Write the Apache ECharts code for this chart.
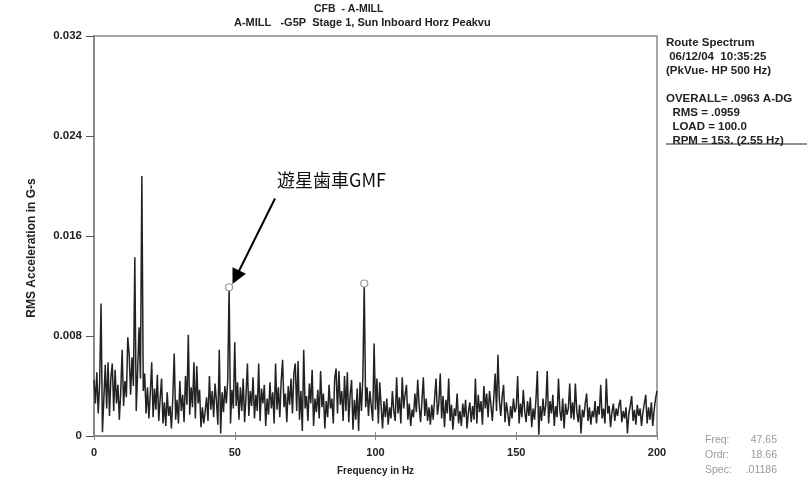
<!DOCTYPE html>
<html>
<head>
<meta charset="utf-8">
<script src="https://cdn.jsdelivr.net/npm/echarts@6/dist/echarts.min.js"></script>
<style>
  html, body { margin: 0; padding: 0; background: #fff; }
  #chart { width: 810px; height: 484px; }
</style>
</head>
<body>
<div id="chart"></div>
<script>
// spectrum line spacing (Hz) and amplitudes in thousandths of a G (0 .. 200 Hz)
const binHz = 0.5;
const ampMilliG = [
  // 0 - 9.5 Hz
  4.5, 2.6, 5.1, 1.8, 4.2, 10.6, 0.3, 3.0, 5.7, 2.2, 5.9, 1.6, 4.7, 5.8, 2.0, 5.3, 2.6, 4.1, 1.3, 3.6,
  // 10 - 19.5
  6.9, 2.4, 4.4, 3.1, 7.9, 6.5, 3.3, 6.3, 4.0, 14.3, 2.0, 5.2, 8.7, 4.6, 20.8, 3.6, 5.0, 1.8, 3.9, 1.4,
  // 20 - 29.5
  3.4, 5.9, 1.5, 3.8, 2.1, 4.9, 1.2, 3.0, 4.6, 1.0, 2.7, 0.8, 3.5, 1.6, 2.4, 0.6, 3.1, 6.6, 1.3, 2.9,
  // 30 - 39.5
  1.0, 4.4, 2.0, 3.3, 1.1, 4.8, 2.5, 8.1, 1.7, 3.9, 2.3, 5.9, 1.4, 5.6, 2.6, 3.7, 0.7, 2.3, 1.0, 2.0,
  // 40 - 49.5
  3.1, 1.2, 4.8, 2.1, 3.6, 1.5, 4.2, 2.8, 0.9, 6.9, 0.2, 3.5, 1.9, 4.0, 2.6, 4.4, 11.9, 1.0, 3.7, 2.2,
  // 50 - 59.5
  7.5, 2.4, 4.3, 1.3, 3.9, 2.0, 4.6, 1.1, 3.2, 5.8, 1.6, 3.6, 2.4, 4.7, 1.4, 3.3, 2.0, 5.8, 1.2, 3.8,
  // 60 - 69.5
  2.6, 4.1, 0.8, 3.0, 1.7, 4.3, 2.2, 3.5, 1.0, 5.8, 2.1, 3.9, 1.5, 4.4, 6.1, 2.3, 3.4, 1.1, 4.0, 2.5,
  // 70 - 79.5
  4.6, 1.8, 5.0, 5.8, 2.0, 6.0, 1.3, 3.6, 0.4, 6.9, 2.2, 3.2, 1.2, 4.2, 2.6, 5.3, 0.8, 3.0, 1.9, 3.7,
  // 80 - 89.5
  1.4, 5.2, 2.3, 3.4, 0.6, 2.8, 1.5, 4.1, 2.2, 3.0, 1.0, 4.6, 5.4, 1.8, 5.2, 2.5, 3.6, 1.2, 4.8, 2.0,
  // 90 - 99.5
  5.1, 1.1, 3.3, 4.5, 0.5, 2.9, 1.3, 3.8, 0.4, 4.3, 2.0, 4.6, 12.2, 2.3, 3.9, 1.6, 3.6, 2.4, 1.2, 7.4,
  // 100 - 109.5
  2.1, 4.6, 1.0, 4.3, 2.4, 0.6, 2.8, 1.5, 3.0, 0.9, 2.3, 1.4, 3.6, 2.0, 1.2, 4.7, 1.8, 3.1, 1.0, 4.7,
  // 110 - 119.5
  2.2, 3.3, 4.1, 1.3, 2.6, 0.8, 2.1, 1.5, 3.4, 1.9, 4.5, 2.4, 1.1, 2.8, 4.7, 1.6, 3.0, 1.2, 2.3, 0.9,
  // 120 - 129.5
  2.5, 1.3, 3.0, 4.6, 1.7, 2.6, 5.0, 1.4, 3.2, 0.7, 2.9, 1.8, 4.6, 1.2, 2.5, 0.5, 2.2, 1.6, 3.4, 1.0,
  // 130 - 139.5
  2.0, 0.8, 2.6, 1.5, 2.9, 0.6, 1.9, 2.7, 1.1, 2.4, 1.3, 4.6, 1.0, 3.3, 1.9, 2.8, 0.9, 4.0, 2.2, 3.4,
  // 140 - 149.5
  1.5, 3.6, 2.5, 1.2, 3.0, 5.0, 2.0, 6.5, 2.9, 1.6, 3.2, 4.1, 1.1, 2.7, 1.8, 0.8, 2.4, 1.4, 3.0, 1.9,
  // 150 - 159.5
  2.3, 4.8, 1.0, 2.6, 1.5, 3.7, 2.0, 1.1, 2.8, 1.6, 3.1, 0.7, 2.2, 1.3, 2.9, 5.2, 0.1, 2.4, 1.2, 3.0,
  // 160 - 169.5
  1.6, 2.5, 5.2, 1.0, 2.8, 1.8, 3.3, 0.8, 2.4, 1.5, 4.6, 2.0, 1.2, 3.0, 0.6, 2.6, 1.7, 2.2, 4.2, 1.4,
  // 170 - 179.5
  2.7, 1.3, 4.2, 2.0, 1.1, 2.5, 0.2, 2.1, 1.5, 2.6, 3.4, 1.2, 2.3, 0.9, 2.0, 1.5, 2.8, 1.0, 2.4, 1.7,
  // 180 - 189.5
  4.1, 1.4, 2.2, 1.0, 4.6, 1.8, 2.4, 0.7, 1.9, 2.6, 1.2, 2.2, 1.6, 2.5, 2.9, 1.1, 2.0, 1.4, 2.3, 0.2,
  // 190 - 200
  1.8, 2.4, 3.2, 1.2, 2.1, 0.9, 2.5, 1.6, 2.2, 0.8, 1.9, 2.6, 3.3, 1.0, 2.3, 1.3, 2.7, 0.8, 2.1, 3.0,
  3.6
];

// peaks flagged with a hollow marker on the analyser plot
const markedPeaksHz = [48, 96];

const titleLines = ['CFB  - A-MILL', 'A-MILL   -G5P  Stage 1, Sun Inboard Horz Peakvu'];
const infoLines = [
  'Route Spectrum',
  ' 06/12/04  10:35:25',
  '(PkVue- HP 500 Hz)',
  '',
  'OVERALL= .0963 A-DG',
  '  RMS = .0959',
  '  LOAD = 100.0',
  '  RPM = 153. (2.55 Hz)'
];
const readoutNames = ['Freq:', 'Ordr:', 'Spec:'];
const readoutValues = ['47.65', '18.66', '.01186'];

const annotationText = '遊星歯車GMF';
const arrowFrom = [64.3, 0.0190];
const arrowTo = [50.4, 0.0127];

const spectrum = ampMilliG.map((v, i) => [i * binHz, v / 1000]);

const chart = echarts.init(document.getElementById('chart'), null, { renderer: 'canvas' });

const latin = '"Liberation Sans", Arial, sans-serif';
const axisGray = '#8a8a8a';

const graphics = [];
titleLines.forEach((t, i) => {
  graphics.push({
    type: 'text', left: i === 0 ? 314 : 234, top: i === 0 ? 4 : 17,
    style: { text: t, font: 'bold ' + (i === 0 ? 10.5 : 11) + 'px ' + latin, fill: '#222' }
  });
});
infoLines.forEach((t, i) => {
  if (!t) return;
  graphics.push({
    type: 'text', left: 666, top: 37 + i * 14,
    style: { text: t, font: 'bold 11.5px ' + latin, fill: '#222' }
  });
});
// strike line under the RPM row
graphics.push({
  type: 'line', shape: { x1: 666, y1: 144, x2: 807, y2: 144 },
  style: { stroke: '#222', lineWidth: 1 }
});
readoutNames.forEach((t, i) => {
  graphics.push({
    type: 'text', left: 705, top: 435 + i * 15,
    style: { text: t, font: '10.5px ' + latin, fill: '#9a9a9a' }
  });
  graphics.push({
    type: 'text', right: 33, top: 435 + i * 15,
    style: { text: readoutValues[i], font: '10.5px ' + latin, fill: '#9a9a9a', textAlign: 'right' }
  });
});
// rotated y-axis title
graphics.push({
  type: 'text', x: 32, y: 248, rotation: Math.PI / 2,
  style: {
    text: 'RMS Acceleration in G-s', font: 'bold 12px ' + latin, fill: '#222',
    textAlign: 'center', textVerticalAlign: 'middle'
  }
});
graphics.push({
  type: 'text', left: 277, top: 171,
  style: { text: annotationText, font: '18px "Noto Sans CJK JP", sans-serif', fill: '#111' }
});

const option = {
  animation: false,
  backgroundColor: '#fff',
  grid: { left: 94, right: 153, top: 36, bottom: 48, show: true, borderColor: axisGray, borderWidth: 1.5 },
  xAxis: [
    {
      type: 'value', min: 0, max: 200, interval: 50,
      name: 'Frequency in Hz', nameLocation: 'middle', nameGap: 30,
      nameTextStyle: { fontFamily: latin, fontWeight: 'bold', fontSize: 10, color: '#222' },
      axisLine: { lineStyle: { color: axisGray, width: 1.5 } },
      axisTick: { show: true, inside: true, length: 4, lineStyle: { color: axisGray } },
      axisLabel: { margin: 11, fontFamily: latin, fontWeight: 'bold', fontSize: 11, color: '#222' },
      splitLine: { show: false }
    },
    {
      type: 'value', min: 0, max: 200, interval: 50, position: 'top',
      axisLine: { lineStyle: { color: axisGray, width: 1.5 } },
      axisTick: { show: true, inside: true, length: 4, lineStyle: { color: axisGray } },
      axisLabel: { show: false }, splitLine: { show: false }
    }
  ],
  yAxis: [
    {
      type: 'value', min: 0, max: 0.032, interval: 0.008,
      axisLine: { show: true, lineStyle: { color: axisGray, width: 1.5 } },
      axisTick: { show: true, length: 8, lineStyle: { color: '#555' } },
      axisLabel: {
        margin: 12, fontFamily: latin, fontWeight: 'bold', fontSize: 11.5, color: '#222',
        formatter: v => (v === 0 ? '0' : v.toFixed(3))
      },
      splitLine: { show: false }
    },
    {
      type: 'value', min: 0, max: 0.032, interval: 0.008, position: 'right',
      axisLine: { show: true, lineStyle: { color: axisGray, width: 1.5 } },
      axisTick: { show: true, inside: true, length: 5, lineStyle: { color: '#555' } },
      axisLabel: { show: false }, splitLine: { show: false }
    }
  ],
  series: [
    {
      type: 'line',
      data: spectrum,
      showSymbol: false,
      lineStyle: { color: '#222', width: 1.5 },
      silent: true,
      markPoint: {
        symbol: 'circle', symbolSize: 7,
        itemStyle: { color: '#fff', borderColor: '#999', borderWidth: 1.2 },
        label: { show: false },
        data: markedPeaksHz.map(f => ({ coord: [f, ampMilliG[Math.round(f / binHz)] / 1000] }))
      },
      markLine: {
        silent: true,
        symbol: ['none', 'triangle'],
        symbolSize: 15,
        label: { show: false },
        lineStyle: { color: '#000', width: 2, type: 'solid' },
        data: [[{ coord: arrowFrom }, { coord: arrowTo }]]
      }
    }
  ],
  graphic: graphics
};

chart.setOption(option);
</script>
</body>
</html>
